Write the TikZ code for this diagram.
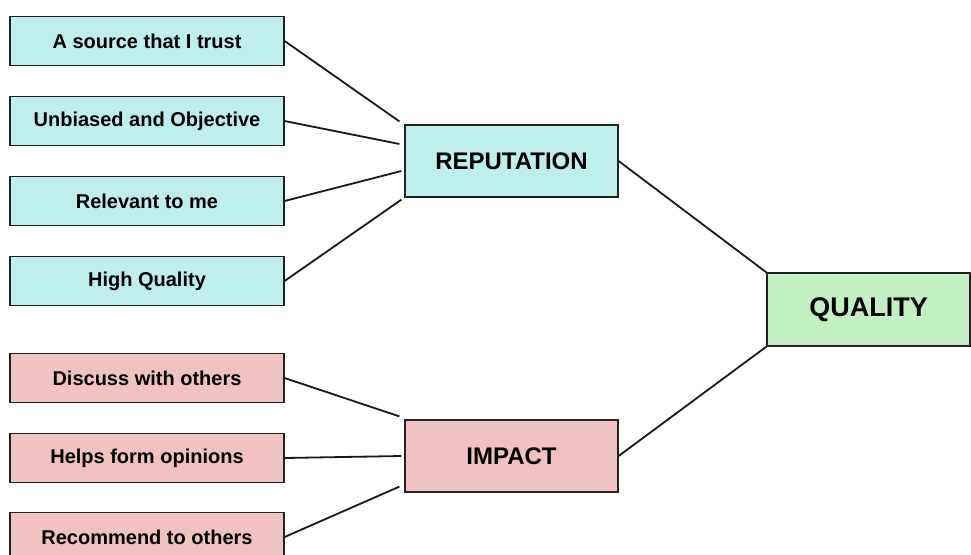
\documentclass[tikz,border=0pt]{standalone}
\usepackage{fontspec}
\setmainfont{Liberation Sans}
\definecolor{cyanfill}{HTML}{BFEFEC}
\definecolor{pinkfill}{HTML}{F0C2C2}
\definecolor{greenfill}{HTML}{C2F0C2}
\definecolor{edgegray}{HTML}{222222}
\begin{document}
\begin{tikzpicture}
			[cyanbox/.style	={rectangle, draw=edgegray, fill=cyanfill, 	line width=1.2pt, minimum width=274pt, minimum height=49pt, inner sep=0pt, font=\fontsize{20}{24}\selectfont\bfseries},
			pinkbox/.style	={rectangle, draw=edgegray, fill=pinkfill, 	line width=1.2pt, minimum width=274pt, minimum height=49pt, inner sep=0pt, font=\fontsize{20}{24}\selectfont\bfseries},
			bigbox/.style	={rectangle, draw=edgegray, line width=1.2pt, minimum width=213pt, minimum height=72pt, inner sep=0pt, font=\fontsize{24}{28}\selectfont\bfseries},
			greenbox/.style	={rectangle, draw=edgegray, fill=greenfill, line width=1.2pt, minimum width=203pt, minimum height=73pt, inner sep=0pt, font=\fontsize{27}{32}\selectfont\bfseries},
			conn/.style		={draw=black!90, line width=1.8pt},
			node distance=80pt]
			\useasboundingbox (0pt,0pt) rectangle (971pt,-554pt);
			% fatores da esquerda
			\node[cyanbox] at (147pt,-41pt)				(trust)		{A source that I trust};
			\node[cyanbox, below of=trust]				(unbiased)	{Unbiased and Objective};
			\node[cyanbox, below of=unbiased]			(relevant)	{Relevant to me};
			\node[cyanbox, below of=relevant]			(highq)		{High Quality};
			\node[pinkbox, below of=highq, yshift=-17pt]	(discuss)	{Discuss with others};
			\node[pinkbox, below of=discuss]			(opinions)	{Helps form opinions};
			\node[pinkbox, below of=opinions, yshift=1pt]	(recommend)	{Recommend to others};
			% grupos
			\node[bigbox, fill=cyanfill] at (511.5pt,-161pt)	(rep)	{REPUTATION};
			\node[bigbox, fill=pinkfill, below of=rep, yshift=-215pt]	(imp)	{IMPACT};
			\node[greenbox] at (868.5pt,-309.5pt)		(qual)	{QUALITY};
			% ligacoes
			\draw[conn] (trust.east)		-- ([xshift=-5pt,yshift=3pt]rep.north west);
			\draw[conn] (unbiased.east)		-- ([xshift=-5pt,yshift=17pt]rep.west);
			\draw[conn] (relevant.east)		-- ([xshift=-3pt,yshift=-10pt]rep.west);
			\draw[conn] (highq.east)		-- ([xshift=-3pt,yshift=-2pt]rep.south west);
			\draw[conn] (discuss.east)		-- ([xshift=-5pt,yshift=3pt]imp.north west);
			\draw[conn] (opinions.east)		-- ([xshift=-3pt]imp.west);
			\draw[conn] (recommend.east)	-- ([xshift=-5pt,yshift=6pt]imp.south west);
			\draw[conn] (rep.east)			-- (qual.north west);
			\draw[conn] (imp.east)			-- (qual.south west);
		\end{tikzpicture}
\end{document}
